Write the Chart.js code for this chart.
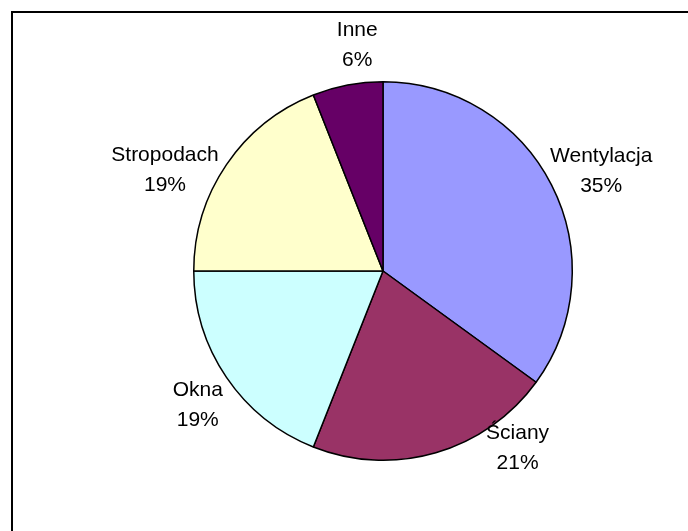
<!DOCTYPE html>
<html lang="pl">
<head>
<meta charset="UTF-8">
<title>Straty ciepła</title>
<script src="https://cdn.jsdelivr.net/npm/chart.js"></script>
<style>
    html, body { margin: 0; padding: 0; background: #fff; overflow: hidden; }
    .ramka {
        position: absolute; left: 11px; top: 11px;
        width: 700px; height: 540px;
        border-left: 2px solid #000; border-top: 2px solid #000;
    }
    .wykres { position: absolute; left: 0; top: 0; width: 688px; height: 531px; }
</style>
</head>
<body>
<div class="ramka"></div>
<div class="wykres"><canvas id="wykres-kolowy" width="688" height="531"></canvas></div>

<script>
    // dane
    const kategorie = ['Wentylacja', 'Ściany', 'Okna', 'Stropodach', 'Inne'];
    const udzialy = [35, 21, 19, 19, 6];
    const kolory = ['#9999FF', '#993366', '#CCFFFF', '#FFFFCC', '#660066'];

    // gdzie stoja etykiety: kat od gory (stopnie) i odleglosc jako krotnosc promienia
    const etykietyKat = [65.5, 142.8, 234, 294.8, 353.5];
    const etykietyOdl = [1.267, 1.176, 1.21, 1.269, 1.203];

    const etykietyPlugin = {
        id: 'etykiety',
        afterDatasetsDraw(chart) {
            const ctx = chart.ctx;
            const meta = chart.getDatasetMeta(0);
            ctx.save();
            ctx.font = '21px "Liberation Sans", Arial, sans-serif';
            ctx.fillStyle = '#000';
            ctx.textAlign = 'center';
            ctx.textBaseline = 'middle';
            meta.data.forEach((arc, i) => {
                const kat = etykietyKat[i] * Math.PI / 180;
                const r = arc.outerRadius * etykietyOdl[i];
                const x = arc.x + Math.sin(kat) * r;
                const y = arc.y - Math.cos(kat) * r;
                ctx.fillText(kategorie[i], x, y - 15);
                ctx.fillText(udzialy[i] + '%', x, y + 15);
            });
            ctx.restore();
        }
    };

    let ctx = document.getElementById('wykres-kolowy').getContext('2d');

    let wykres = new Chart(ctx, {
        type: 'pie',
        data: {
            labels: kategorie,
            datasets: [{
                data: udzialy,
                backgroundColor: kolory,
                borderColor: '#000',
                borderWidth: 1.5
            }]
        },
        options: {
            responsive: false,
            animation: false,
            layout: { padding: { left: 193, right: 115, top: 81, bottom: 70 } },
            plugins: {
                legend: { display: false },
                tooltip: { enabled: false }
            }
        },
        plugins: [etykietyPlugin]
    });
</script>
</body>
</html>
